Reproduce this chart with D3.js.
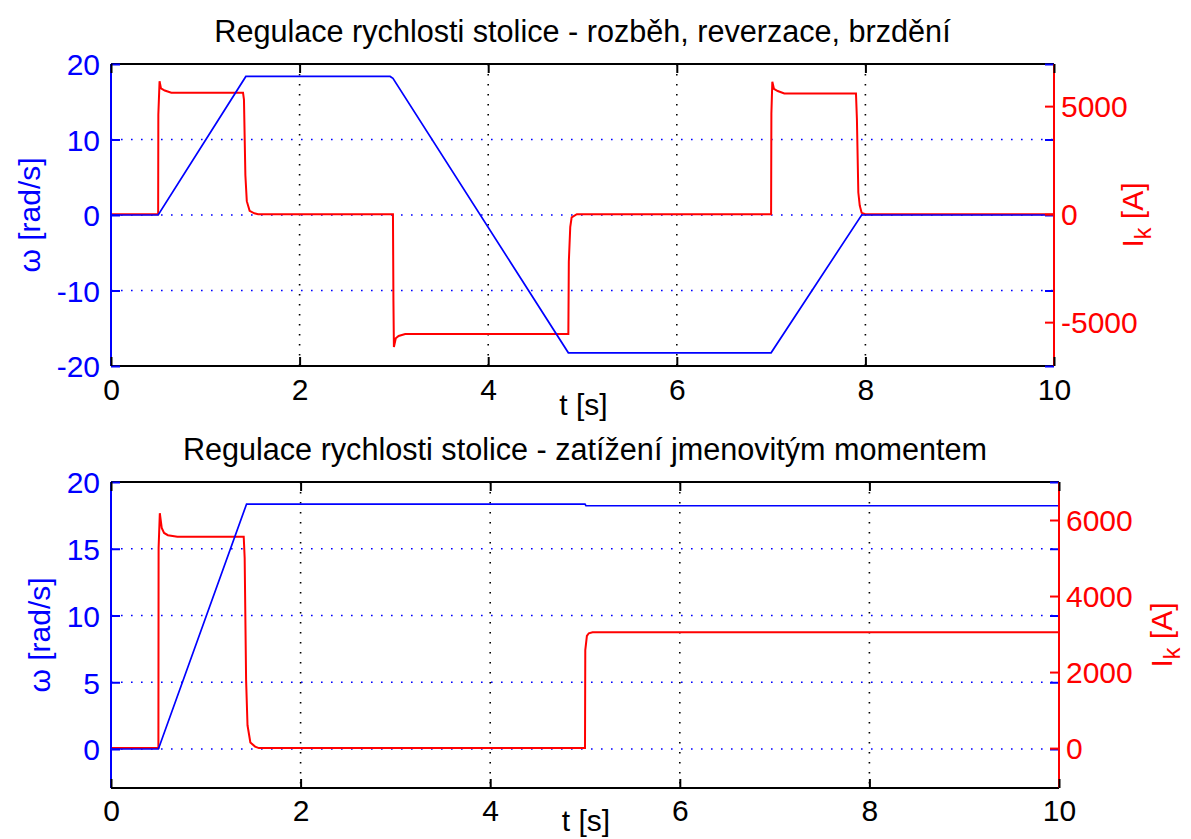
<!DOCTYPE html>
<html><head><meta charset="utf-8">
<script src="https://cdn.jsdelivr.net/npm/d3@7"></script>
<style>
html,body{margin:0;padding:0;background:#fff;}
svg text{font-family:"Liberation Sans",Arial,sans-serif;}
</style></head>
<body>
<svg id="chart" width="1191" height="839"></svg>
<script>
// ---------- DATA ----------
const titles = ["Regulace rychlosti stolice - rozběh, reverzace, brzdění",
                "Regulace rychlosti stolice - zatížení jmenovitým momentem"];
const xTicks = [0, 2, 4, 6, 8, 10];
const xLabel = "t [s]";

// top panel
const topOmegaT = [0, 0.5, 1.43, 2.96, 2.99, 4.85, 7.0, 7.96, 10];
const topOmegaV = [0, 0, 18.35, 18.35, 18.1, -18.25, -18.25, 0, 0];
const topCurT = [0, 0.5, 0.502, 0.515, 0.53, 0.57, 0.64, 1.40, 1.41, 1.425, 1.44, 1.47, 1.52, 1.56,
                 2.99, 2.995, 3.0, 3.02, 3.05, 3.12, 4.85, 4.855, 4.87, 4.885, 4.94,
                 7.0, 7.003, 7.013, 7.03, 7.07, 7.14, 7.90, 7.91, 7.925, 7.94, 7.96, 8.0, 10];
const topCurV = [0, 0, 4600, 6150, 5820, 5720, 5620, 5620, 5300, 1800, 600, 150, 40, 0,
                 0, -4000, -6150, -5750, -5640, -5550, -5550, -2200, -600, -150, 0,
                 0, 4650, 6130, 5800, 5700, 5590, 5590, 4400, 1000, 400, 60, 0, 0];
const topLeftTicks = [-20, -10, 0, 10, 20];
const topRightTicks = [-5000, 0, 5000];

// bottom panel
const botOmegaT = [0, 0.5, 1.43, 5.0, 5.01, 10];
const botOmegaV = [0, 0, 18.35, 18.35, 18.22, 18.22];
const botCurT = [0, 0.5, 0.502, 0.515, 0.535, 0.56, 0.6, 0.7, 1.40, 1.41, 1.425, 1.44, 1.47, 1.52, 1.56,
                 5.0, 5.003, 5.02, 5.04, 5.08, 10];
const botCurV = [0, 0, 5260, 6180, 5790, 5660, 5600, 5560, 5560, 5000, 1800, 600, 150, 40, 0,
                 0, 2580, 2950, 3020, 3045, 3045];
const botLeftTicks = [0, 5, 10, 15, 20];
const botRightTicks = [0, 2000, 4000, 6000];

const omegaLabel = "ω [rad/s]";

// ---------- DRAW ----------
const svg = d3.select("#chart");
const BLUE = "#0000ff", RED = "#ff0000";
const FS = 30;
const fmt = d => String(d);

function panel(cfg) {
  const g = svg.append("g");
  const x = d3.scaleLinear().domain([0, 10]).range([cfg.left, cfg.right]);
  const yL = d3.scaleLinear().domain(cfg.leftDomain).range([cfg.bottom, cfg.top]);
  const yR = d3.scaleLinear().domain(cfg.rightDomain).range([cfg.bottom, cfg.top]);

  // grid
  g.append("g").selectAll("line").data(cfg.xTicks.filter(d => d > 0 && d < 10)).join("line")
    .attr("x1", d => x(d)).attr("x2", d => x(d)).attr("y1", cfg.top).attr("y2", cfg.bottom)
    .attr("stroke", "#000").attr("stroke-width", 1.6).attr("stroke-dasharray", "1.6,8.4");
  g.append("g").selectAll("line").data(cfg.leftTicks).join("line")
    .attr("x1", cfg.left).attr("x2", cfg.right).attr("y1", d => yL(d)).attr("y2", d => yL(d))
    .attr("stroke", BLUE).attr("stroke-width", 1.6).attr("stroke-dasharray", "1.6,8.4");

  // data
  const curData = cfg.curT.map((t, i) => [t, cfg.curV[i]]);
  const omData = cfg.omT.map((t, i) => [t, cfg.omV[i]]);
  g.append("path").datum(curData)
    .attr("d", d3.line().x(d => x(d[0])).y(d => yR(d[1])))
    .attr("fill", "none").attr("stroke", RED).attr("stroke-width", 2);
  g.append("path").datum(omData)
    .attr("d", d3.line().x(d => x(d[0])).y(d => yL(d[1])))
    .attr("fill", "none").attr("stroke", BLUE).attr("stroke-width", 1.7);

  // frame
  g.append("line").attr("x1", cfg.left).attr("x2", cfg.right).attr("y1", cfg.top).attr("y2", cfg.top)
    .attr("stroke", "#000").attr("stroke-width", 2);
  g.append("line").attr("x1", cfg.left).attr("x2", cfg.right).attr("y1", cfg.bottom).attr("y2", cfg.bottom)
    .attr("stroke", "#000").attr("stroke-width", 2);

  const T = 9;
  // left axis
  const la = g.append("g").attr("transform", `translate(${cfg.left},0)`)
    .call(d3.axisLeft(yL).tickValues(cfg.leftTicks).tickSize(-T).tickPadding(11).tickFormat(fmt));
  la.select(".domain").attr("stroke", BLUE).attr("stroke-width", 2).attr("d", `M0,${cfg.top}V${cfg.bottom}`);
  la.selectAll("line").attr("stroke", BLUE).attr("stroke-width", 2);
  la.selectAll("text").attr("font-size", FS).attr("fill", BLUE)
    .attr("font-family", "Liberation Sans, Arial, sans-serif").attr("dy", "0.36em");
  const la2 = g.append("g").attr("transform", `translate(${cfg.right},0)`)
    .call(d3.axisRight(yL).tickValues(cfg.leftTicks).tickSize(-T).tickFormat(""));
  la2.select(".domain").remove();
  la2.selectAll("line").attr("stroke", BLUE).attr("stroke-width", 2);

  // right axis
  const ra = g.append("g").attr("transform", `translate(${cfg.right},0)`)
    .call(d3.axisRight(yR).tickValues(cfg.rightTicks).tickSize(-T).tickPadding(7).tickFormat(fmt));
  ra.select(".domain").attr("stroke", RED).attr("stroke-width", 2).attr("d", `M0,${cfg.top}V${cfg.bottom}`);
  ra.selectAll("line").attr("stroke", RED).attr("stroke-width", 2);
  ra.selectAll("text").attr("font-size", FS).attr("fill", RED)
    .attr("font-family", "Liberation Sans, Arial, sans-serif").attr("dy", "0.36em");

  // x axes (bottom with labels, top ticks only)
  const xb = g.append("g").attr("transform", `translate(0,${cfg.bottom})`)
    .call(d3.axisBottom(x).tickValues(cfg.xTicks).tickSize(-T).tickFormat(fmt));
  const xt = g.append("g").attr("transform", `translate(0,${cfg.top})`)
    .call(d3.axisTop(x).tickValues(cfg.xTicks).tickSize(-T).tickFormat(""));
  [xb, xt].forEach(a => {
    a.select(".domain").remove();
    a.selectAll("line").attr("stroke", "#000").attr("stroke-width", 2);
  });
  xb.selectAll("text").attr("font-size", FS).attr("fill", "#000")
    .attr("font-family", "Liberation Sans, Arial, sans-serif").attr("dy", 0).attr("y", cfg.xLabY - cfg.bottom);

  // titles and labels
  g.append("text").attr("x", (cfg.left + cfg.right) / 2).attr("y", cfg.titleY)
    .attr("text-anchor", "middle").attr("font-size", FS + 0.6).attr("fill", "#000").text(cfg.title);
  g.append("text").attr("x", (cfg.left + cfg.right) / 2 + 1).attr("y", cfg.xTitleY)
    .attr("text-anchor", "middle").attr("font-size", FS).attr("fill", "#000").text(xLabel);
  const cy = (cfg.top + cfg.bottom) / 2;
  g.append("text").attr("transform", `translate(${cfg.omLabX},${cy}) rotate(-90)`)
    .attr("text-anchor", "middle").attr("font-size", FS).attr("fill", BLUE).text(omegaLabel);
  const ik = g.append("text").attr("transform", `translate(${cfg.ikLabX},${cy}) rotate(-90)`)
    .attr("text-anchor", "middle").attr("font-size", FS).attr("fill", RED);
  ik.append("tspan").text("I");
  ik.append("tspan").attr("font-size", FS * 0.78).attr("dy", 8).text("k");
  ik.append("tspan").attr("dy", -8).text(" [A]");
}

panel({
  left: 111, right: 1054, top: 64, bottom: 366,
  leftDomain: [-20, 20], rightDomain: [-7030, 6950],
  xTicks: xTicks, leftTicks: topLeftTicks, rightTicks: topRightTicks,
  omT: topOmegaT, omV: topOmegaV, curT: topCurT, curV: topCurV,
  title: titles[0], titleY: 42, xLabY: 400, xTitleY: 415,
  omLabX: 40, ikLabX: 1143
});
panel({
  left: 111, right: 1059, top: 482, bottom: 788,
  leftDomain: [-2.92, 20], rightDomain: [-1050, 7000],
  xTicks: xTicks, leftTicks: botLeftTicks, rightTicks: botRightTicks,
  omT: botOmegaT, omV: botOmegaV, curT: botCurT, curV: botCurV,
  title: titles[1], titleY: 460, xLabY: 821, xTitleY: 831,
  omLabX: 50, ikLabX: 1172
});
</script>
</body></html>
